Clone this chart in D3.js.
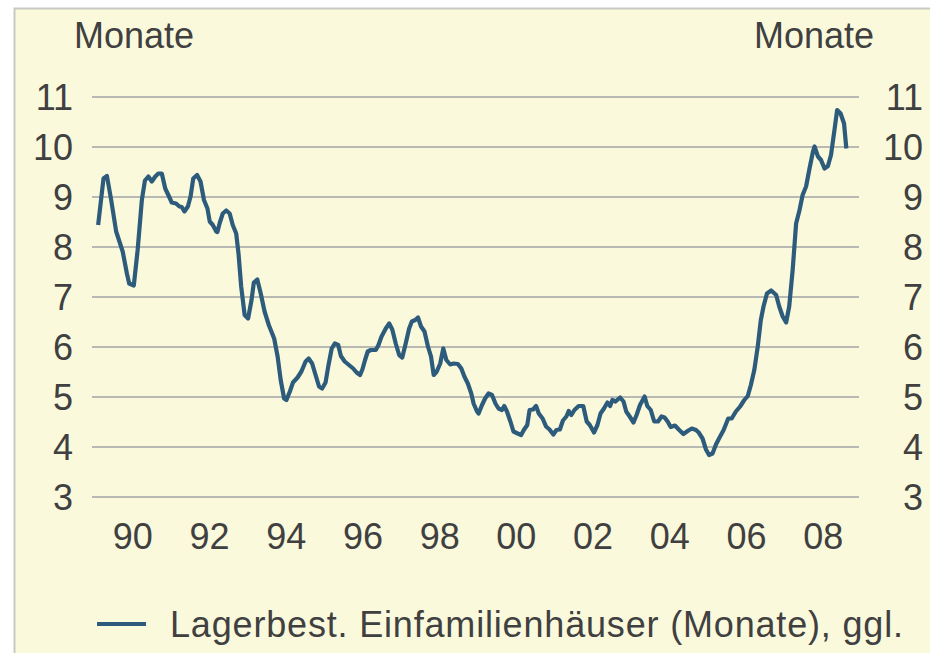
<!DOCTYPE html>
<html>
<head>
<meta charset="utf-8">
<script src="https://cdn.jsdelivr.net/npm/d3@7"></script>
<style>
  html, body { margin: 0; padding: 0; background: #ffffff; }
  svg { display: block; }
  text { font-family: "Liberation Sans", Arial, sans-serif; fill: #404040; }
</style>
</head>
<body>
<svg id="chart" width="930" height="653"></svg>
<script>
// ---- Data ----
const seriesName = "Lagerbest. Einfamilienhäuser (Monate), ggl.";
const unitLabel = "Monate";
const yTicks = [3, 4, 5, 6, 7, 8, 9, 10, 11];
const xTickYears = [1990, 1992, 1994, 1996, 1998, 2000, 2002, 2004, 2006, 2008];
const xTickLabels = ["90", "92", "94", "96", "98", "00", "02", "04", "06", "08"];

// time in decimal years
const dates = [
  1989.16, 1989.30, 1989.39, 1989.50, 1989.63, 1989.80, 1989.91, 1989.97, 1990.09, 1990.19,
  1990.30, 1990.38, 1990.47, 1990.56, 1990.65, 1990.73, 1990.82, 1990.91, 1990.99, 1991.08,
  1991.19, 1991.28, 1991.34, 1991.41, 1991.50, 1991.57, 1991.64, 1991.74, 1991.83, 1991.92,
  1992.01, 1992.07, 1992.15, 1992.24, 1992.27, 1992.33, 1992.41, 1992.50, 1992.59, 1992.67,
  1992.76, 1992.82, 1992.89, 1992.98, 1993.07, 1993.16, 1993.22, 1993.31, 1993.40, 1993.50,
  1993.61, 1993.75, 1993.84, 1993.92, 1994.01, 1994.07, 1994.16, 1994.24, 1994.36, 1994.46,
  1994.57, 1994.65, 1994.74, 1994.83, 1994.92, 1995.00, 1995.09, 1995.16, 1995.25, 1995.33,
  1995.42, 1995.49, 1995.59, 1995.70, 1995.81, 1995.90, 1995.99, 1996.05, 1996.12, 1996.19,
  1996.27, 1996.40, 1996.47, 1996.55, 1996.66, 1996.75, 1996.83, 1996.92, 1997.01, 1997.09,
  1997.18, 1997.27, 1997.34, 1997.43, 1997.50, 1997.58, 1997.67, 1997.76, 1997.84, 1997.91,
  1997.99, 1998.08, 1998.16, 1998.24, 1998.34, 1998.43, 1998.54, 1998.63, 1998.71, 1998.80,
  1998.89, 1998.95, 1999.04, 1999.08, 1999.17, 1999.25, 1999.34, 1999.43, 1999.52, 1999.60,
  1999.69, 1999.75, 1999.82, 1999.91, 1999.99, 2000.10, 2000.19, 2000.26, 2000.35, 2000.41,
  2000.50, 2000.58, 2000.65, 2000.75, 2000.84, 2000.93, 2001.03, 2001.11, 2001.20, 2001.28,
  2001.37, 2001.43, 2001.50, 2001.58, 2001.69, 2001.81, 2001.90, 2001.98, 2002.09, 2002.18,
  2002.26, 2002.35, 2002.44, 2002.51, 2002.57, 2002.65, 2002.77, 2002.86, 2002.93, 2003.02,
  2003.12, 2003.20, 2003.29, 2003.41, 2003.48, 2003.57, 2003.66, 2003.76, 2003.85, 2003.93,
  2004.01, 2004.09, 2004.20, 2004.30, 2004.42, 2004.55, 2004.64, 2004.75, 2004.82, 2004.92,
  2005.01, 2005.09, 2005.18, 2005.27, 2005.35, 2005.47, 2005.59, 2005.68, 2005.79, 2005.90,
  2006.01, 2006.10, 2006.18, 2006.27, 2006.36, 2006.44, 2006.51, 2006.60, 2006.71, 2006.84,
  2006.92, 2007.01, 2007.10, 2007.18, 2007.27, 2007.36, 2007.45, 2007.53, 2007.62, 2007.71,
  2007.80, 2007.84, 2007.93, 2008.01, 2008.10, 2008.19, 2008.27, 2008.36, 2008.43, 2008.52,
  2008.61, 2008.67
];

const values = [
  8.44, 9.37, 9.42, 8.94, 8.31, 7.91, 7.47, 7.27, 7.23, 7.94,
  8.94, 9.33, 9.41, 9.31, 9.41, 9.47, 9.47, 9.17, 9.04, 8.89,
  8.87, 8.81, 8.80, 8.71, 8.81, 9.01, 9.37, 9.44, 9.31, 8.94,
  8.77, 8.51, 8.44, 8.31, 8.30, 8.48, 8.67, 8.73, 8.67, 8.44,
  8.27, 7.87, 7.21, 6.64, 6.57, 6.94, 7.29, 7.35, 7.07, 6.71,
  6.44, 6.17, 5.81, 5.34, 4.97, 4.94, 5.11, 5.29, 5.39, 5.51,
  5.71, 5.77, 5.67, 5.44, 5.21, 5.17, 5.29, 5.61, 5.97, 6.07,
  6.04, 5.82, 5.71, 5.64, 5.57, 5.49, 5.44, 5.55, 5.74, 5.91,
  5.94, 5.94, 6.04, 6.21, 6.37, 6.47, 6.35, 6.07, 5.84, 5.79,
  6.07, 6.37, 6.51, 6.54, 6.59, 6.41, 6.31, 6.01, 5.81, 5.44,
  5.51, 5.67, 5.97, 5.74, 5.65, 5.67, 5.66, 5.57, 5.41, 5.27,
  5.07, 4.87, 4.71, 4.67, 4.84, 4.97, 5.07, 5.04, 4.87, 4.77,
  4.74, 4.82, 4.71, 4.51, 4.31, 4.27, 4.24, 4.34, 4.44, 4.74,
  4.75, 4.82, 4.67, 4.57, 4.41, 4.35, 4.25, 4.34, 4.35, 4.53,
  4.61, 4.72, 4.64, 4.74, 4.82, 4.82, 4.51, 4.44, 4.29, 4.44,
  4.67, 4.77, 4.89, 4.82, 4.94, 4.91, 4.99, 4.91, 4.71, 4.61,
  4.49, 4.64, 4.84, 5.01, 4.82, 4.74, 4.51, 4.51, 4.61, 4.59,
  4.51, 4.40, 4.43, 4.35, 4.26, 4.33, 4.37, 4.34, 4.29, 4.17,
  3.95, 3.84, 3.87, 4.05, 4.17, 4.34, 4.57, 4.57, 4.71, 4.81,
  4.94, 5.02, 5.24, 5.54, 6.01, 6.54, 6.81, 7.07, 7.13, 7.04,
  6.81, 6.61, 6.49, 6.81, 7.54, 8.47, 8.74, 9.04, 9.21, 9.57,
  9.91, 10.01, 9.81, 9.74, 9.57, 9.62, 9.84, 10.34, 10.74, 10.67,
  10.47, 9.97
];

// ---- Layout ----
const W = 930, H = 653;
const plot = { left: 92, right: 859, top: 97, bottom: 497 };
const colors = {
  bg: "#FAF9DC",
  border: "#C9C9C4",
  grid: "#B9B9B3",
  line: "#2D5B7B",
  text: "#404040"
};
const fontSize = 36;

const svg = d3.select("#chart");

// background panel
svg.append("rect")
  .attr("x", 14).attr("y", 8)
  .attr("width", W - 14).attr("height", H - 8)
  .attr("fill", colors.bg);
svg.append("path")
  .attr("d", `M14.5,${H} V8.5 H${W}`)
  .attr("fill", "none")
  .attr("stroke", colors.border)
  .attr("stroke-width", 2);

const x = d3.scaleLinear().domain([1989, 2009]).range([plot.left, plot.right]);
const y = d3.scaleLinear().domain([3, 11]).range([plot.bottom, plot.top]);

// gridlines
svg.append("g").selectAll("line")
  .data(yTicks).join("line")
  .attr("x1", plot.left).attr("x2", plot.right)
  .attr("y1", d => y(d)).attr("y2", d => y(d))
  .attr("stroke", colors.grid)
  .attr("stroke-width", 2);

// left y axis labels
const yAxisL = d3.axisLeft(y).tickValues(yTicks).tickSize(0).tickPadding(0).tickFormat(d3.format("d"));
const gL = svg.append("g").attr("transform", "translate(73,0)").call(yAxisL);
gL.select(".domain").remove();
gL.selectAll("text").attr("font-size", fontSize).attr("fill", colors.text)
  .attr("font-family", "Liberation Sans, Arial, sans-serif").attr("dy", "0.35em");

// right y axis labels
const gR = svg.append("g").attr("transform", "translate(923,0)").call(yAxisL);
gR.select(".domain").remove();
gR.selectAll("text").attr("font-size", fontSize).attr("fill", colors.text)
  .attr("font-family", "Liberation Sans, Arial, sans-serif").attr("dy", "0.35em");

// x axis labels
const xAxis = d3.axisBottom(x).tickValues(xTickYears).tickSize(0).tickPadding(0)
  .tickFormat((d, i) => xTickLabels[i]);
const gX = svg.append("g").attr("transform", "translate(2,523)").call(xAxis);
gX.select(".domain").remove();
gX.selectAll("text").attr("font-size", fontSize).attr("fill", colors.text)
  .attr("font-family", "Liberation Sans, Arial, sans-serif").attr("dy", "0.71em");

// unit labels
svg.append("text").attr("x", 74).attr("y", 48)
  .attr("font-size", fontSize).text(unitLabel);
svg.append("text").attr("x", 874).attr("y", 48)
  .attr("text-anchor", "end").attr("font-size", fontSize).text(unitLabel);

// series line
const pts = dates.map((d, i) => [d, values[i]]);
const line = d3.line().x(d => x(d[0])).y(d => y(d[1]));
svg.append("path")
  .datum(pts)
  .attr("d", line)
  .attr("fill", "none")
  .attr("stroke", colors.line)
  .attr("stroke-width", 4.2)
  .attr("stroke-linejoin", "round")
  .attr("stroke-linecap", "butt");

// legend
const lg = svg.append("g").attr("transform", "translate(97,624)");
lg.append("line").attr("x1", 0).attr("x2", 49).attr("y1", 0).attr("y2", 0)
  .attr("stroke", colors.line).attr("stroke-width", 4);
lg.append("text").attr("x", 73).attr("y", 13)
  .attr("font-size", fontSize)
  .attr("textLength", 733).attr("lengthAdjust", "spacing")
  .text(seriesName);
</script>
</body>
</html>
